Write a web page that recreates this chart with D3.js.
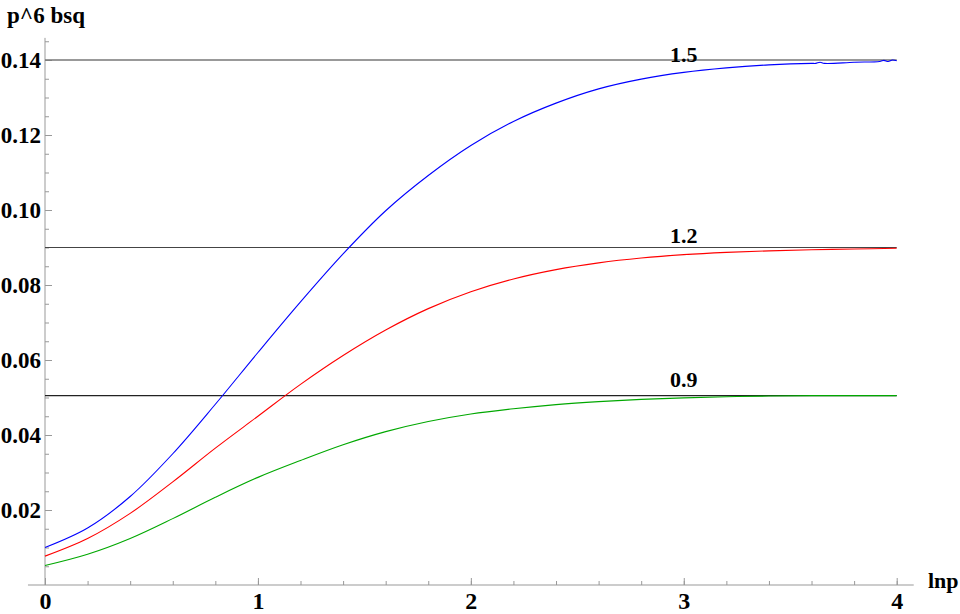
<!DOCTYPE html>
<html>
<head>
<meta charset="utf-8">
<script src="https://cdn.jsdelivr.net/npm/d3@7"></script>
<style>
  html, body { margin: 0; padding: 0; background: #fff; }
  svg { display: block; }
  text { font-family: "Liberation Serif", "Times New Roman", serif; font-weight: bold; fill: #000; }
</style>
</head>
<body>
<svg id="chart" width="960" height="614"></svg>
<script>
// ---------- data ----------
const lnp = [0,0.2,0.4,0.6,0.8,1.0,1.2,1.4,1.6,1.8,2.0,2.2,2.4,2.6,2.8,3.0,3.2,3.4,3.6,3.8,4.0];
const bsq09 = [0.0052,0.0082,0.0124,0.0177,0.0234,0.0287,0.0332,0.0374,0.0409,0.0436,0.0456,0.0470,0.0481,0.0489,0.0495,0.0499,0.0502,0.0504,0.0505,0.0505,0.0505];
const bsq12 = [0.0077,0.0124,0.0191,0.0275,0.0365,0.0450,0.0535,0.0612,0.0680,0.0737,0.0782,0.0816,0.0841,0.0859,0.0872,0.0881,0.0887,0.0891,0.0894,0.0896,0.0898];
const lnp15 = [0,0.2,0.4,0.6,0.8,1.0,1.2,1.4,1.6,1.8,2.0,2.2,2.4,2.6,2.8,3.0,3.2,3.4,3.6,3.62,3.64,3.66,3.8,3.92,3.94,3.96,3.98,4.0];
const bsq15 = [0.0100,0.0152,0.0236,0.0350,0.0482,0.0620,0.0755,0.0883,0.0998,0.1092,0.1172,0.1236,0.1285,0.1323,0.1349,0.1367,0.1379,0.1387,0.1391,0.1391,0.1394,0.1391,0.1394,0.1396,0.1399,0.1396,0.1400,0.1398];

const limitValues = [0.14, 0.09, 0.0505];
const limitColors = ["#777", "#444", "#222"];
const limitLabels = ["1.5", "1.2", "0.9"];
const labelLnp = [3, 3, 3];
const labelBsq = [0.1394, 0.0911, 0.0529];

const xTickValues = [0, 1, 2, 3, 4];
const yTickValues = [0.02, 0.04, 0.06, 0.08, 0.10, 0.12, 0.14];
const xMinorTicks = d3.range(0, 4.0001, 0.2);
const yMinorTicks = d3.range(0.005, 0.1451, 0.005);

const seriesColors = ["#0000ff", "#ff0000", "#00a800"];

// ---------- scales ----------
const svg = d3.select("#chart");
const x = d3.scaleLinear().domain([0, 4]).range([45, 896.7]);
const y = d3.scaleLinear().domain([0, 0.14]).range([585, 60]);

// axis lines
const axisColor = "#999";
svg.append("line").attr("x1", x(-0.08)).attr("x2", x(4.08)).attr("y1", y(0)).attr("y2", y(0))
  .attr("stroke", axisColor).attr("stroke-width", 1);
svg.append("line").attr("x1", x(0)).attr("x2", x(0)).attr("y1", y(0)).attr("y2", y(0.1459))
  .attr("stroke", axisColor).attr("stroke-width", 1);

// minor ticks
const gxm = svg.append("g").attr("transform", `translate(0,${y(0)})`)
  .call(d3.axisBottom(x).tickValues(xMinorTicks).tickSize(-4).tickFormat(""));
const gym = svg.append("g").attr("transform", `translate(${x(0)},0)`)
  .call(d3.axisLeft(y).tickValues(yMinorTicks).tickSize(-4).tickFormat(""));
// major ticks with labels
const gx = svg.append("g").attr("transform", `translate(0,${y(0)})`)
  .call(d3.axisBottom(x).tickValues(xTickValues).tickSize(-7).tickPadding(7).tickFormat(d3.format("d")));
const gy = svg.append("g").attr("transform", `translate(${x(0)},0)`)
  .call(d3.axisLeft(y).tickValues(yTickValues).tickSize(-7).tickPadding(4).tickFormat(d3.format(".2f")));

[gxm, gym, gx, gy].forEach(g => {
  g.select(".domain").remove();
  g.selectAll(".tick line").attr("stroke", axisColor);
  g.selectAll("text").attr("font-family", '"Liberation Serif", serif').attr("font-weight", "bold")
    .attr("font-size", 23).attr("fill", "#000");
});
gx.selectAll("text").attr("font-size", 24);

// axis titles
svg.append("text").attr("x", 7).attr("y", 23).attr("font-size", 23).text("p^6 bsq");
svg.append("text").attr("x", 928).attr("y", 588).attr("font-size", 22).text("lnp");

// asymptote lines
svg.selectAll("line.limit").data(limitValues).enter().append("line")
  .attr("class", "limit")
  .attr("x1", x(0)).attr("x2", x(4))
  .attr("y1", d => y(d)).attr("y2", d => y(d))
  .attr("stroke", (d, i) => limitColors[i]).attr("stroke-width", (d, i) => i === 0 ? 1.6 : 1.2);

// curves
const line = d3.line().x(d => x(d[0])).y(d => y(d[1])).curve(d3.curveCatmullRom.alpha(0.5));
const series = [
  d3.zip(lnp15, bsq15),
  d3.zip(lnp, bsq12),
  d3.zip(lnp, bsq09)
];
svg.selectAll("path.curve").data(series).enter().append("path")
  .attr("class", "curve")
  .attr("d", line)
  .attr("fill", "none")
  .attr("stroke", (d, i) => seriesColors[i])
  .attr("stroke-width", 1.1);

// labels
svg.selectAll("text.lbl").data(limitLabels).enter().append("text")
  .attr("class", "lbl")
  .attr("x", (d, i) => x(labelLnp[i]))
  .attr("y", (d, i) => y(labelBsq[i]))
  .attr("text-anchor", "middle")
  .attr("font-size", 22)
  .text(d => d);
</script>
</body>
</html>
